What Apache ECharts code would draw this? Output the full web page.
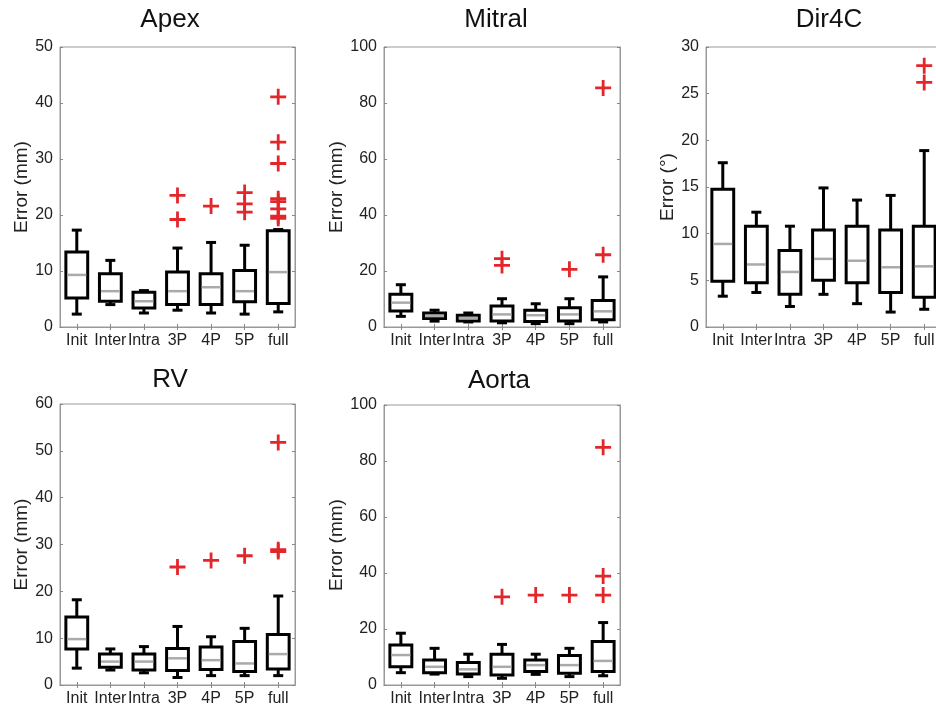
<!DOCTYPE html>
<html>
<head>
<meta charset="utf-8">
<script src="https://cdn.jsdelivr.net/npm/echarts@6/dist/echarts.min.js"></script>
<style>html,body{margin:0;padding:0;background:#fff;overflow:hidden;width:936px;height:708px}#c{width:946px;height:708px}</style>
</head>
<body>
<div id="c"></div>
<script>
// categories
var categories = ['Init', 'Inter', 'Intra', '3P', '4P', '5P', 'full'];
// box stats per category: [low whisker, Q1, median, Q3, high whisker]
var apex = [[2.3,5.2,9.3,13.4,17.3],[4.0,4.6,6.4,9.5,11.9],[2.5,3.4,4.6,6.2,6.5],[3.0,4.0,6.4,9.8,14.1],[2.5,4.0,7.1,9.5,15.1],[2.3,4.5,6.4,10.1,14.6],[2.7,4.2,9.8,17.2,17.4]];
var apexOut = [[3,23.5],[3,19.2],[4,21.6],[5,24.0],[5,22.0],[5,20.5],[6,41.1],[6,33.0],[6,29.2],[6,22.9],[6,22.4],[6,21.1],[6,19.8],[6,19.4]];
var mitral = [[3.8,5.7,8.7,11.7,15.1],[2.1,3.0,3.9,5.0,6.0],[1.8,2.1,3.2,4.2,5.0],[1.5,2.1,4.5,7.5,10.1],[1.2,2.0,4.2,6.0,8.3],[1.2,2.1,4.5,6.9,10.1],[1.8,2.6,5.6,9.5,17.9]];
var mitralOut = [[3,24.4],[3,22.0],[5,20.6],[6,85.4],[6,25.8]];
var dir4c = [[3.3,4.9,8.9,14.75,17.6],[3.7,4.75,6.7,10.8,12.3],[2.2,3.5,5.9,8.2,10.8],[3.5,5.0,7.3,10.4,14.9],[2.5,4.75,7.1,10.8,13.6],[1.6,3.7,6.4,10.4,14.1],[1.9,3.2,6.5,10.8,18.9]];
var dir4cOut = [[6,28.0],[6,26.2]];
var rv = [[3.6,7.7,9.8,14.5,18.2],[3.2,3.8,5.0,6.6,7.7],[2.6,3.2,5.0,6.6,8.2],[1.6,3.1,5.7,7.8,12.5],[2.0,3.3,5.3,8.1,10.3],[2.0,2.9,4.6,9.3,12.1],[2.0,3.4,6.6,10.8,19.0]];
var rvOut = [[3,25.2],[4,26.6],[5,27.6],[6,51.8],[6,28.9],[6,28.5]];
var aorta = [[4.4,6.5,10.7,14.3,18.5],[3.9,4.4,6.5,8.9,13.1],[3.0,3.9,5.6,8.0,11.0],[2.4,3.6,6.5,11.0,14.5],[3.8,4.8,7.1,8.9,11.0],[3.0,4.2,7.1,10.5,13.1],[3.3,4.8,8.6,15.5,22.3]];
var aortaOut = [[3,31.5],[4,32.1],[5,32.1],[6,84.9],[6,38.9],[6,32.1]];
// axis ticks
var apexTicks = {max: 50, interval: 10};
var mitralTicks = {max: 100, interval: 20};
var dir4cTicks = {max: 30, interval: 5};
var rvTicks = {max: 60, interval: 10};
var aortaTicks = {max: 100, interval: 20};

var FONT = 'Liberation Sans, Arial, sans-serif';
var panels = [
  {title: 'Apex', name: 'Error (mm)', box: apex, out: apexOut, ticks: apexTicks, grid: {left: 60, top: 47, width: 235, height: 280}, tx: 170, ty: 20},
  {title: 'Mitral', name: 'Error (mm)', box: mitral, out: mitralOut, ticks: mitralTicks, grid: {left: 384, top: 47, width: 236, height: 280}, tx: 496, ty: 20},
  {title: 'Dir4C', name: 'Error (°)', box: dir4c, out: dir4cOut, ticks: dir4cTicks, grid: {left: 706, top: 47, width: 235, height: 280}, tx: 829, ty: 20},
  {title: 'RV', name: 'Error (mm)', box: rv, out: rvOut, ticks: rvTicks, grid: {left: 60, top: 404, width: 235, height: 281}, tx: 170, ty: 380},
  {title: 'Aorta', name: 'Error (mm)', box: aorta, out: aortaOut, ticks: aortaTicks, grid: {left: 384, top: 405, width: 236, height: 280}, tx: 499, ty: 381}
];

var grids = [], xAxes = [], yAxes = [], series = [], graphics = [];
var plusPath = 'path://M6.6,0H9.4V6.6H16V9.4H9.4V16H6.6V9.4H0V6.6H6.6Z';

function renderBox(params, api) {
  var x = api.value(0);
  var lo = api.coord([x, api.value(1)]);
  var q1 = api.coord([x, api.value(2)]);
  var md = api.coord([x, api.value(3)]);
  var q3 = api.coord([x, api.value(4)]);
  var hi = api.coord([x, api.value(5)]);
  var cx = lo[0];
  var bw = api.size([1, 0])[0] * 0.65;
  var h = bw / 2, c = 5;
  var ls = {stroke: '#000', lineWidth: 3, fill: null};
  return {
    type: 'group',
    children: [
      {type: 'line', shape: {x1: cx, y1: q3[1], x2: cx, y2: hi[1]}, style: ls},
      {type: 'line', shape: {x1: cx - c, y1: hi[1], x2: cx + c, y2: hi[1]}, style: ls},
      {type: 'line', shape: {x1: cx, y1: q1[1], x2: cx, y2: lo[1]}, style: ls},
      {type: 'line', shape: {x1: cx - c, y1: lo[1], x2: cx + c, y2: lo[1]}, style: ls},
      {type: 'rect', shape: {x: cx - h, y: q3[1], width: bw, height: q1[1] - q3[1]}, style: {stroke: '#000', lineWidth: 3, fill: '#fff'}},
      {type: 'line', shape: {x1: cx - h + 1.5, y1: md[1], x2: cx + h - 1.5, y2: md[1]}, style: {stroke: '#aaa', lineWidth: 2.5}}
    ]
  };
}

panels.forEach(function (p, i) {
  grids.push(Object.assign({show: true, borderColor: '#999', borderWidth: 1, backgroundColor: '#fff'}, p.grid));
  var tickStyle = {show: true, inside: true, length: 3, lineStyle: {color: '#888', width: 1}};
  xAxes.push({
    type: 'category', gridIndex: i, data: categories, position: 'bottom',
    axisLine: {lineStyle: {color: '#999', width: 1}},
    axisTick: Object.assign({alignWithLabel: true}, tickStyle),
    axisLabel: {color: '#222', fontSize: 16, fontFamily: FONT, margin: 6, interval: 0},
    splitLine: {show: false}
  });
  xAxes.push({
    type: 'category', gridIndex: i, data: categories, position: 'top',
    axisLine: {lineStyle: {color: '#999', width: 1}},
    axisTick: Object.assign({alignWithLabel: true}, tickStyle),
    axisLabel: {show: false}, splitLine: {show: false}
  });
  yAxes.push({
    type: 'value', gridIndex: i, min: 0, max: p.ticks.max, interval: p.ticks.interval, position: 'left',
    name: p.name, nameLocation: 'middle', nameGap: 28, nameRotate: 90,
    nameTextStyle: {color: '#222', fontSize: 19, fontFamily: FONT},
    axisLine: {show: true, lineStyle: {color: '#999', width: 1}},
    axisTick: tickStyle,
    axisLabel: {color: '#222', fontSize: 16, fontFamily: FONT, margin: 7},
    splitLine: {show: false}
  });
  yAxes.push({
    type: 'value', gridIndex: i, min: 0, max: p.ticks.max, interval: p.ticks.interval, position: 'right',
    axisLine: {show: true, lineStyle: {color: '#999', width: 1}},
    axisTick: tickStyle, axisLabel: {show: false}, splitLine: {show: false}
  });
  series.push({
    type: 'custom', xAxisIndex: i * 2, yAxisIndex: i * 2, renderItem: renderBox,
    encode: {x: 0, y: [1, 2, 3, 4, 5]},
    data: p.box.map(function (b, k) { return [k].concat(b); }),
    z: 2, silent: true
  });
  series.push({
    type: 'scatter', xAxisIndex: i * 2, yAxisIndex: i * 2, data: p.out,
    symbol: plusPath, symbolSize: 16, itemStyle: {color: '#e3262a', opacity: 1}, z: 3, silent: true
  });
  graphics.push({
    type: 'text', x: p.tx, y: p.ty,
    style: {text: p.title, fontSize: 26, fontFamily: FONT, fill: '#111', align: 'center', verticalAlign: 'middle', textAlign: 'center', textVerticalAlign: 'middle'}
  });
});

var chart = echarts.init(document.getElementById('c'));
chart.setOption({
  animation: false,
  backgroundColor: '#fff',
  grid: grids, xAxis: xAxes, yAxis: yAxes, series: series, graphic: graphics
});
</script>
</body>
</html>
